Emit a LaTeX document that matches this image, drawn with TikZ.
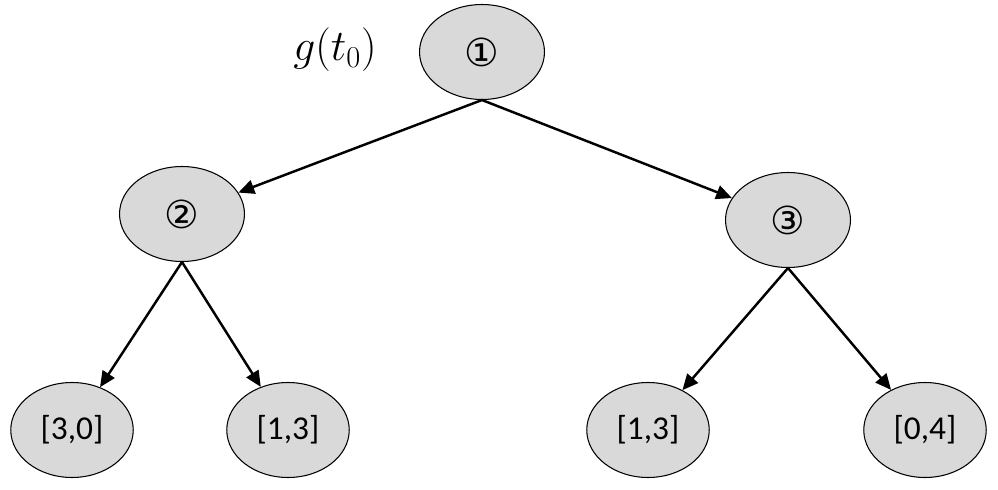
\documentclass[tikz,border=0pt]{standalone}
\usepackage{fontspec}
\setmainfont{Carlito}
\newfontfamily\circfont{DejaVu Sans}
\usetikzlibrary{shapes.geometric,arrows.meta}
\tikzset{
  state/.style={ellipse, draw, fill=black!15, line width=0.6pt, minimum width=2.5cm, minimum height=1.9cm, font=\fontsize{19}{22}\selectfont},
  edge/.style={-{Triangle[length=9pt,width=8pt]}, line width=1.4pt}
}
\newcommand{\circnum}[1]{{\circfont\fontsize{22}{24}\selectfont #1}}

\begin{document}
\begin{tikzpicture}[x=0.02cm, y=-0.02cm]
  \useasboundingbox (0,0) rectangle (998,490);

  \node[state] (n1) at (482,52) {\circnum{①}};
  \node[state] (n2) at (182,214) {\circnum{②}};
  \node[state] (n3) at (788,220) {\circnum{③}};
  \node[state, minimum width=2.45cm] (l1) at (72,430) {[3,0]};
  \node[state, minimum width=2.45cm] (l2) at (288,430) {[1,3]};
  \node[state, minimum width=2.45cm] (l3) at (648,430) {[1,3]};
  \node[state, minimum width=2.45cm] (l4) at (925,430) {[0,4]};

  \node (g) at (335,50) {\fontsize{24}{28}\selectfont$g(t_0)$};

  \draw[edge] (n1.south) -- (n2);
  \draw[edge] (n1.south) -- (n3);
  \draw[edge] (n2.south) -- (l1);
  \draw[edge] (n2.south) -- (l2);
  \draw[edge] (n3.south) -- (l3);
  \draw[edge] (n3.south) -- (l4);
\end{tikzpicture}
\end{document}
